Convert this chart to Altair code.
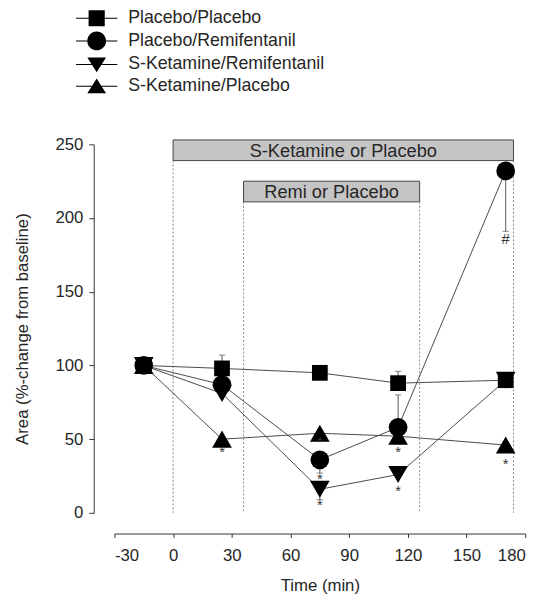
import altair as alt
import pandas as pd

# ---------------- data ----------------
times = [-15, 25, 75, 115, 170]
series_names = ["Placebo/Placebo", "Placebo/Remifentanil",
                "S-Ketamine/Remifentanil", "S-Ketamine/Placebo"]
placebo_placebo = [100, 98, 95, 88, 90]
placebo_remi = [100, 87, 36, 58, 232]
sket_remi = [100, 81, 16, 26, 90]
sket_placebo = [100, 50, 54, 52, 46]

# one-sided error bars
err_series = ["Placebo/Placebo", "Placebo/Placebo", "Placebo/Remifentanil",
              "Placebo/Remifentanil", "Placebo/Remifentanil",
              "S-Ketamine/Placebo", "S-Ketamine/Remifentanil"]
err_time = [25, 115, 115, 170, 75, 75, 75]
err_value = [98, 88, 58, 232, 36, 54, 16]
err_end = [107, 96, 80, 191, 27, 49, 9]

# significance marks
sig_time = [25, 75, 75, 75, 115, 115, 170, 170]
sig_value = [41, 48, 23, 5, 41, 15, 33, 186]
sig_text = ["*", "*", "*", "*", "*", "*", "*", "#"]

# treatment bars
bar_labels = ["S-Ketamine or Placebo", "Remi or Placebo"]
bar_start = [0, 36]
bar_end = [174, 126]
bar_low = [239, 211]
bar_high = [253, 225]

x_ticks = [-30, 0, 30, 60, 90, 120, 150, 180]
y_ticks = [0, 50, 100, 150, 200, 250]

# ---------------- tables ----------------
values = {
    "Placebo/Placebo": placebo_placebo,
    "Placebo/Remifentanil": placebo_remi,
    "S-Ketamine/Remifentanil": sket_remi,
    "S-Ketamine/Placebo": sket_placebo,
}
rows = []
for s in series_names:
    for t, v in zip(times, values[s]):
        rows.append({"series": s, "time": t, "value": v})
df = pd.DataFrame(rows)

err_df = pd.DataFrame({"series": err_series, "time": err_time,
                       "value": err_value, "end": err_end})
sig_df = pd.DataFrame({"time": sig_time, "value": sig_value, "text": sig_text})
bar_df = pd.DataFrame({"label": bar_labels, "start": bar_start, "end": bar_end,
                       "low": bar_low, "high": bar_high})
dot_df = pd.DataFrame({"time": bar_start + bar_end,
                       "top": bar_low + bar_low})

FONT = "Liberation Sans"
INK = "#262626"

xscale = alt.Scale(domain=[-30, 180], nice=False, zero=False)
yscale = alt.Scale(domain=[0, 250], nice=False, zero=True)
xaxis = alt.Axis(values=x_ticks, offset=21, tickSize=4, labelPadding=10,
                 labelExpr="datum.value + ''",
                 title="Time (min)", titlePadding=15, grid=False)
yaxis = alt.Axis(values=y_ticks, offset=21, tickSize=5, labelPadding=6,
                 title="Area (%-change from baseline)", titlePadding=24,
                 grid=False)


def X(field, **kw):
    return alt.X(field, type="quantitative", scale=xscale, axis=xaxis, **kw)


def Y(field, **kw):
    return alt.Y(field, type="quantitative", scale=yscale, axis=yaxis, **kw)


dotted = alt.Chart(dot_df).mark_rule(
    color="#888", strokeDash=[2, 2], strokeWidth=1
).encode(x=X("time"), y=Y("top"), y2=alt.datum(0))

bars = alt.Chart(bar_df).mark_rect(
    fill="#c4c4c4", stroke="#444", strokeWidth=1
).encode(x=X("start"), x2="end", y=Y("low"), y2="high")

bar_text = alt.Chart(bar_df).transform_calculate(
    mx="(datum.start + datum.end) / 2", my="(datum.low + datum.high) / 2"
).mark_text(font=FONT, fontSize=18.5, color=INK, baseline="middle",
            align="center", dy=1).encode(x=X("mx"), y=Y("my"), text="label")

err_rule = alt.Chart(err_df).mark_rule(color="#555", strokeWidth=1).encode(
    x=X("time"), y=Y("value"), y2="end")
err_cap = alt.Chart(err_df).mark_point(
    shape="stroke", size=40, color="#555", strokeWidth=1, filled=False
).encode(x=X("time"), y=Y("end"))

lines = alt.Chart(df).mark_line(color="#4a4a4a", strokeWidth=1).encode(
    x=X("time"), y=Y("value"), detail="series:N", order="time:Q")

marker_shapes = {"Placebo/Placebo": ("square", 256),
                 "Placebo/Remifentanil": ("circle", 361),
                 "S-Ketamine/Remifentanil": ("triangle-down", 400),
                 "S-Ketamine/Placebo": ("triangle-up", 400)}
draw_order = ["S-Ketamine/Remifentanil", "S-Ketamine/Placebo",
              "Placebo/Placebo", "Placebo/Remifentanil"]
point_layers = []
for s in draw_order:
    shp, sz = marker_shapes[s]
    point_layers.append(
        alt.Chart(df).transform_filter(alt.datum.series == s).mark_point(
            filled=True, color="black", opacity=1, shape=shp, size=sz
        ).encode(x=X("time"), y=Y("value"))
    )

sig = alt.Chart(sig_df).mark_text(font=FONT, fontSize=15, color="#333",
                                  baseline="middle").encode(
    x=X("time"), y=Y("value"), text="text")

# legend glyphs: a thin bar (the line) plus the marker, all filled
LINE = "M-2.1,-0.05H2.1V0.05H-2.1Z"
legend_paths = [
    LINE + "M-0.82,-0.82H0.82V0.82H-0.82Z",
    LINE + "M0.95,0A0.95,0.95,0,1,1,-0.95,0A0.95,0.95,0,1,1,0.95,0Z",
    LINE + "M-0.95,-0.72H0.95L0,0.78Z",
    LINE + "M0.95,0.72H-0.95L0,-0.78Z",
]
legend_layer = alt.Chart(df).transform_filter("false").mark_point(
    filled=True, color="black"
).encode(
    x=X("time"), y=Y("value"),
    shape=alt.Shape("series:N", scale=alt.Scale(domain=series_names,
                                                range=legend_paths),
                    legend=alt.Legend(
                        title=None, orient="none",
                        legendX=-29, legendY=-139,
                        symbolSize=400, labelOffset=21,
                        symbolFillColor="black", symbolOpacity=1,
                        labelFontSize=18, labelFont=FONT,
                        labelColor=INK, rowPadding=-2,
                        labelLimit=400, padding=0)),
)

chart = alt.layer(
    dotted, bars, bar_text, err_rule, err_cap, lines, *point_layers, sig,
    legend_layer
).properties(
    width=417, height=374,
    autosize=alt.AutoSizeParams(type="none"),
    padding={"left": 108, "top": 134, "right": 18, "bottom": 81},
).configure_view(stroke=None).configure_axis(
    labelFont=FONT, titleFont=FONT, labelFontSize=17, titleFontSize=17,
    labelColor=INK, titleColor=INK, titleFontWeight="normal",
    domainColor="#333", tickColor="#333", domainWidth=1, tickWidth=1,
)

chart.save("out.html", embed_options={"renderer": "svg", "actions": False})
